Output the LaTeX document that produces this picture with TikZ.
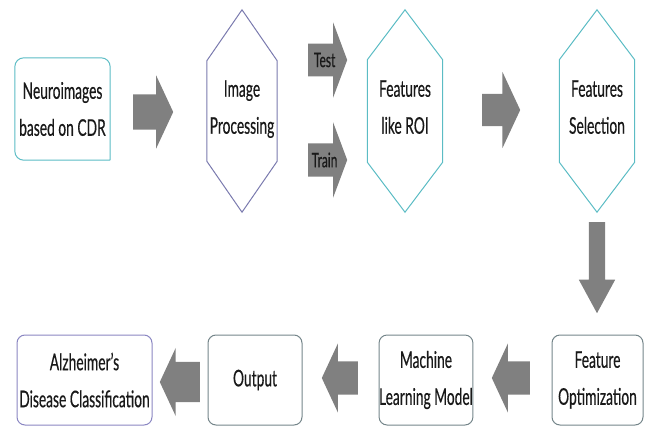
\documentclass[tikz,border=0pt]{standalone}
\usepackage{fontspec}
\setmainfont{Lato}[FakeStretch=0.6,FakeBold=0.4]
\usetikzlibrary{arrows.meta,positioning,shapes.arrows}
\definecolor{cdrteal}{HTML}{5BBCC4}
\definecolor{procviolet}{HTML}{7A7AAE}
\definecolor{resultviolet}{HTML}{8A86C2}
\definecolor{stagegray}{HTML}{74858A}
\definecolor{flowgray}{HTML}{808080}
\tikzset{
    stagetext/.style={align=center,font=\fontsize{23}{37}\selectfont,text=black!90},
    inputbox/.style={stagetext,minimum width=95pt,minimum height=102pt,inner sep=0pt},
    hexstage/.style={stagetext,minimum width=#1,minimum height=202pt,inner sep=0pt},
    roundstage/.style={stagetext,draw=stagegray,line width=1pt,rounded corners=8pt,minimum height=90pt,inner sep=0pt},
    flowarrow/.style={single arrow,fill=flowgray,draw=none,inner xsep=0pt,anchor=tail,
        single arrow tip angle=130,font=\fontsize{20}{20}\selectfont,text=black!90},
    flowline/.style={line width=1pt,line join=miter}
}
\newcommand{\hexframe}[3]{%
  \draw[flowline,#2] (#1.north) -- ([yshift=-#3]#1.north east) -- ([yshift=#3]#1.south east)
    -- (#1.south) -- ([yshift=#3]#1.south west) -- ([yshift=-#3]#1.north west) -- cycle;}

\begin{document}
\begin{tikzpicture}[x=1pt,y=-1pt]
    \useasboundingbox (0,0) rectangle (648,434);
    % top row
    \node[inputbox] (neuro) at (62.5,109) {Neuroimages\\based on CDR};
    \draw[flowline,cdrteal,rounded corners=9pt] (neuro.south east) -- (neuro.north east)
        -- (neuro.north west) -- (neuro.south west) -- (neuro.south east);
    \node[hexstage=70pt,text depth=8pt] (improc) at (242,111) {Image\\Processing};
    \hexframe{improc}{procviolet}{51pt}
    \node[hexstage=75pt,text depth=8pt] (roi) at (405,111) {Features\\like ROI};
    \hexframe{roi}{cdrteal}{50pt}
    \node[hexstage=75pt,text depth=8pt] (select) at (597,111) {Features\\Selection};
    \hexframe{select}{cdrteal}{50pt}
    % bottom row
    \node[roundstage,draw=resultviolet,minimum width=135pt] (alz) at (84.5,380) {Alzheimer's\\Disease Classification};
    \node[roundstage,minimum width=94pt] (output) at (255,380) {Output};
    \node[roundstage,minimum width=92pt] (mlmodel) at (426,380) {Machine\\Learning Model};
    \node[roundstage,minimum width=91pt] (featopt) at (597.5,380) {Feature\\Optimization};
    % block arrows
    \node[flowarrow,minimum height=40pt,minimum width=73pt,inner ysep=17.5pt,single arrow head extend=19pt] (a1) at (133,112) {};
    \node[flowarrow,minimum height=39pt,minimum width=75pt,inner ysep=9pt,single arrow head extend=21pt,single arrow tip angle=139] (test) at (308,60) {Test};
    \node[flowarrow,minimum height=39pt,minimum width=75pt,inner ysep=9pt,single arrow head extend=21pt,single arrow tip angle=139] (train) at (308,160) {Train};
    \node[flowarrow,minimum height=38pt,minimum width=76pt,inner ysep=16pt,single arrow head extend=22pt] (a3) at (482,110) {};
    \node[flowarrow,minimum height=91pt,minimum width=36pt,inner xsep=8pt,inner ysep=0pt,single arrow head extend=10pt,single arrow tip angle=57,shape border rotate=270] (down) at (597,222) {};
    \node[flowarrow,minimum height=38pt,minimum width=69pt,inner ysep=16.5pt,single arrow head extend=18pt,shape border rotate=180] (b1) at (530,378) {};
    \node[flowarrow,minimum height=36pt,minimum width=69pt,inner ysep=16.5pt,single arrow head extend=18pt,shape border rotate=180] (b2) at (358,378) {};
    \node[flowarrow,minimum height=40pt,minimum width=67pt,inner ysep=20pt,single arrow head extend=14pt,shape border rotate=180] (b3) at (200,382) {};
\end{tikzpicture}
\end{document}
